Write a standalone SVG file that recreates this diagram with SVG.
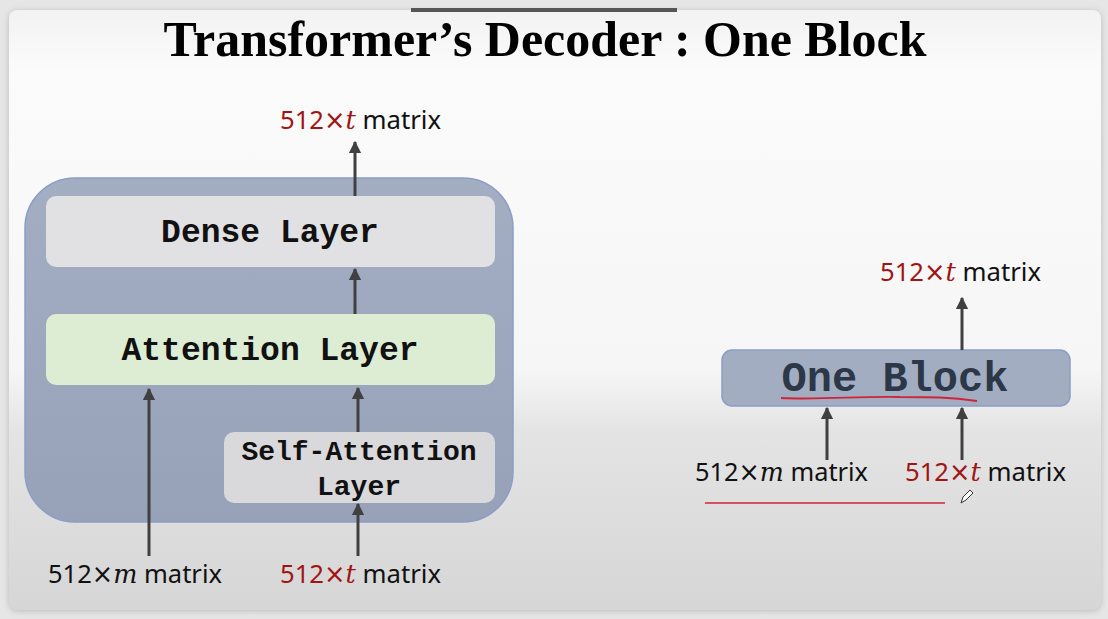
<svg xmlns="http://www.w3.org/2000/svg" width="1108" height="619" viewBox="0 0 1108 619">
<defs>
<linearGradient id="bg" x1="0" y1="0" x2="0" y2="1">
<stop offset="0" stop-color="#f2f2f2"/>
<stop offset="0.1" stop-color="#fbfbfb"/>
<stop offset="0.6" stop-color="#f6f6f6"/>
<stop offset="0.7" stop-color="#e4e4e4"/>
<stop offset="1" stop-color="#d6d6d6"/>
</linearGradient>
<linearGradient id="outer" x1="0" y1="0" x2="0" y2="1">
<stop offset="0" stop-color="#a3aec3"/>
<stop offset="1" stop-color="#97a2b8"/>
</linearGradient>
<marker id="ah" viewBox="0 0 10 10" refX="9" refY="5" markerWidth="4.2" markerHeight="4.2" orient="auto" markerUnits="strokeWidth">
<path d="M0,0 L10,5 L0,10 Z" fill="#404040"/>
</marker>
<filter id="sh" x="-5%" y="-5%" width="110%" height="110%">
<feGaussianBlur stdDeviation="3"/>
</filter>
</defs>
<style>
.lbl{font-family:"Noto Sans","Open Sans",sans-serif;font-size:26px;fill:#111}
.red{fill:#a01414}
.it{font-family:"DejaVu Serif","Liberation Serif",serif;font-style:italic}
.x{font-family:"DejaVu Sans",sans-serif}
.mono{font-family:"Liberation Mono","Courier New",monospace;font-weight:bold;fill:#111}
.arr{stroke:#404040;stroke-width:3;fill:none;marker-end:url(#ah)}
</style>
<rect width="1108" height="619" fill="#e6e6e6"/>
<rect x="9" y="11" width="1092" height="600" rx="8" fill="#bbb" filter="url(#sh)"/>
<rect x="9" y="10" width="1092" height="600" rx="8" fill="url(#bg)"/>
<rect x="411" y="8" width="266" height="4" fill="#555"/>
<text x="545" y="56" text-anchor="middle" font-family="Liberation Serif, serif" font-weight="bold" font-size="50" textLength="763" lengthAdjust="spacingAndGlyphs" fill="#000">Transformer’s Decoder : One Block</text>

<g id="outer-block">
<rect x="25" y="178" width="488" height="344" rx="50" fill="url(#outer)" stroke="#8c9dc6" stroke-width="1.5"/>
</g>
<g id="dense-layer">
<rect x="46" y="196" width="449" height="71" rx="10" fill="#e1e0e3"/>
<text x="270" y="242" text-anchor="middle" class="mono" font-size="33">Dense Layer</text>
</g>
<g id="attention-layer">
<rect x="46" y="314" width="449" height="71" rx="10" fill="#ddedd3"/>
<text x="270" y="360" text-anchor="middle" class="mono" font-size="33">Attention Layer</text>
</g>
<g id="self-attention-layer">
<rect x="224" y="432" width="271" height="71" rx="10" fill="#d9d8db"/>
<text x="359" y="460" text-anchor="middle" class="mono" font-size="28">Self-Attention</text>
<text x="359" y="495" text-anchor="middle" class="mono" font-size="28">Layer</text>
</g>
<g id="label-top-left">
<text x="280" y="129" class="lbl" textLength="161" lengthAdjust="spacingAndGlyphs"><tspan class="red">512</tspan><tspan class="red x">×</tspan><tspan class="red it">t</tspan> matrix</text>
</g>
<g id="label-m-left">
<text x="48" y="583" class="lbl" textLength="174" lengthAdjust="spacingAndGlyphs">512<tspan class="x">×</tspan><tspan class="it">m</tspan> matrix</text>
</g>
<g id="label-t-left">
<text x="280" y="583" class="lbl" textLength="161" lengthAdjust="spacingAndGlyphs"><tspan class="red">512</tspan><tspan class="red x">×</tspan><tspan class="red it">t</tspan> matrix</text>
</g>

<g id="one-block">
<rect x="722" y="350" width="348" height="56" rx="10" fill="#a2adc2" stroke="#8c9dc6" stroke-width="1.5"/>
<text x="895" y="391" text-anchor="middle" class="mono" font-size="42" style="fill:#2c3747">One Block</text>
<path d="M781,398 C820,400 860,396 900,397 C930,397 950,397 977,401" stroke="#d0243a" stroke-width="1.8" fill="none"/>
</g>
<g id="label-top-right">
<text x="880" y="281" class="lbl" textLength="161" lengthAdjust="spacingAndGlyphs"><tspan class="red">512</tspan><tspan class="red x">×</tspan><tspan class="red it">t</tspan> matrix</text>
</g>
<g id="label-m-right">
<text x="695" y="481" class="lbl" textLength="173" lengthAdjust="spacingAndGlyphs">512<tspan class="x">×</tspan><tspan class="it">m</tspan> matrix</text>
</g>
<g id="label-t-right">
<text x="905" y="481" class="lbl" textLength="161" lengthAdjust="spacingAndGlyphs"><tspan class="red">512</tspan><tspan class="red x">×</tspan><tspan class="red it">t</tspan> matrix</text>
</g>
<g id="annotation">
<line x1="705" y1="503" x2="945" y2="503" stroke="#d0243a" stroke-width="1.5"/>
<path d="M961,503 L963,497 L970,490 L973,493 L966,500 Z" fill="#fff" stroke="#333" stroke-width="1"/>
</g>

<g id="connectors">
<line class="arr" x1="355" y1="196" x2="355" y2="142"/>
<line class="arr" x1="355" y1="314" x2="355" y2="269"/>
<line class="arr" x1="358" y1="432" x2="358" y2="388"/>
<line class="arr" x1="149" y1="556" x2="149" y2="389"/>
<line class="arr" x1="358" y1="556" x2="358" y2="504"/>
<line class="arr" x1="962" y1="350" x2="962" y2="298"/>
<line class="arr" x1="827" y1="460" x2="827" y2="408"/>
<line class="arr" x1="962" y1="460" x2="962" y2="408"/>
</g>
</svg>
